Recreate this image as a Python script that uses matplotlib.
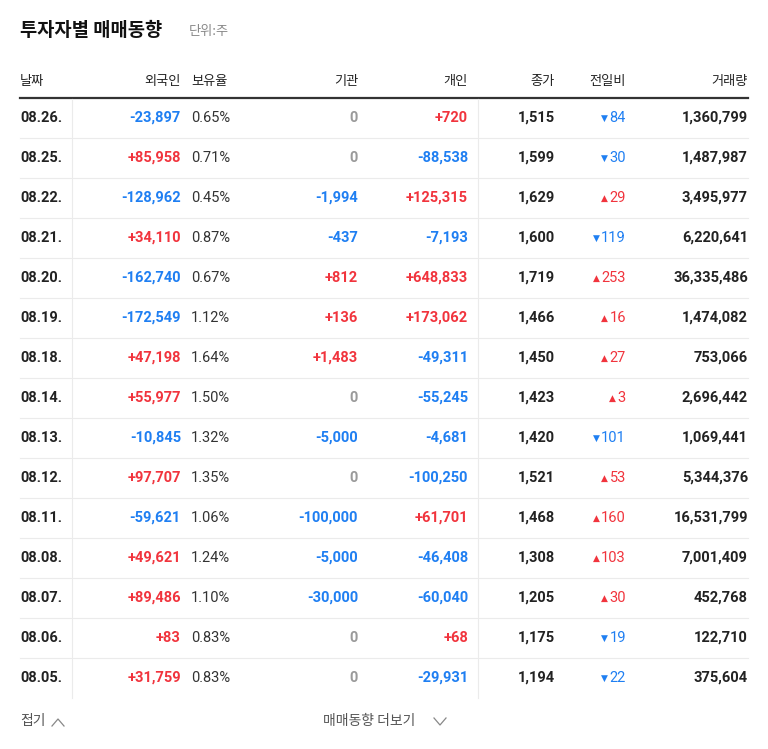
import matplotlib
matplotlib.use("Agg")
import matplotlib.pyplot as plt

dates = ["08.26.","08.25.","08.22.","08.21.","08.20.","08.19.","08.18.","08.14.","08.13.","08.12.","08.11.","08.08.","08.07.","08.06.","08.05."]
foreign = [-23897,85958,-128962,34110,-162740,-172549,47198,55977,-10845,97707,-59621,49621,89486,83,31759]
ratio = [0.65,0.71,0.45,0.87,0.67,1.12,1.64,1.50,1.32,1.35,1.06,1.24,1.10,0.83,0.83]
inst = [0,0,-1994,-437,812,136,1483,0,-5000,0,-100000,-5000,-30000,0,0]
indiv = [720,-88538,125315,-7193,648833,173062,-49311,-55245,-4681,-100250,61701,-46408,-60040,68,-29931]
close = [1515,1599,1629,1600,1719,1466,1450,1423,1420,1521,1468,1308,1205,1175,1194]
change = [-84,-30,29,-119,253,16,27,3,-101,53,160,103,30,-19,-22]
volume = [1360799,1487987,3495977,6220641,36335486,1474082,753066,2696442,1069441,5344376,16531799,7001409,452768,122710,375604]
headers = ["날짜","외국인","보유율","기관","개인","종가","전일비","거래량"]

RED = "#f1343d"; BLUE = "#1f7ff2"; GRAY = "#9a9a9a"; DARK = "#222222"
KR = ["Noto Sans CJK KR", "Noto Sans CJK JP", "Noto Sans CJK SC", "DejaVu Sans"]
plt.rcParams["font.family"] = KR

fig = plt.figure(figsize=(7.68, 7.49), dpi=100)
ax = fig.add_axes([0, 0, 1, 1])
ax.set_xlim(0, 768); ax.set_ylim(749, 0); ax.axis("off")

ax.text(20, 31, "투자자별 매매동향", fontsize=13.5, fontweight="bold", color="#111", va="center", ha="left", fontfamily=KR)
ax.text(189, 32, "단위:주", fontsize=9.5, color="#888", va="center", ha="left", fontfamily=KR)

hy = 81
hx = [(20,"left"),(181,"right"),(191,"left"),(358,"right"),(468,"right"),(555,"right"),(626,"right"),(748,"right")]
for (x, h), t in zip(hx, headers):
    ax.text(x, hy, t, fontsize=9.5, color=DARK, va="center", ha=h, fontfamily=KR)

ax.plot([20, 748], [98, 98], color="#333", lw=1.6)
n = len(dates)
for i in range(1, n):
    y = 98 + 40 * i
    ax.plot([20, 748], [y, y], color="#ebebeb", lw=0.8)
for x in (72, 478):
    ax.plot([x, x], [99, 98 + 40 * n], color="#ebebeb", lw=0.8)

def signed(v):
    if v == 0:
        return "0", GRAY
    if v > 0:
        return f"+{v:,}", RED
    return f"-{abs(v):,}", BLUE

fs = 10.5
R = "Roboto"
for i in range(n):
    y = 118 + 40 * i
    ax.text(20, y, dates[i], fontsize=fs, fontweight="bold", color=DARK, va="center", ha="left", fontfamily=R)
    t, c = signed(foreign[i])
    ax.text(181, y, t, fontsize=fs, fontweight="bold", color=c, va="center", ha="right", fontfamily=R)
    ax.text(191, y, f"{ratio[i]:.2f}%", fontsize=fs, color="#333", va="center", ha="left", fontfamily=R)
    t, c = signed(inst[i])
    ax.text(358, y, t, fontsize=fs, fontweight="bold", color=c, va="center", ha="right", fontfamily=R)
    t, c = signed(indiv[i])
    ax.text(468, y, t, fontsize=fs, fontweight="bold", color=c, va="center", ha="right", fontfamily=R)
    ax.text(555, y, f"{close[i]:,}", fontsize=fs, fontweight="bold", color=DARK, va="center", ha="right", fontfamily=R)
    ch = change[i]
    c = RED if ch > 0 else BLUE
    num = f"{abs(ch)}"
    ax.text(626, y, num, fontsize=fs, color=c, va="center", ha="right", fontfamily=R)
    w = 8.2 * len(num) + 2
    ax.text(626 - w, y, "▲" if ch > 0 else "▼", fontsize=6.5, color=c, va="center", ha="right", fontfamily="DejaVu Sans")
    ax.text(748, y, f"{volume[i]:,}", fontsize=fs, fontweight="bold", color=DARK, va="center", ha="right", fontfamily=R)

ax.text(20, 721, "접기", fontsize=10, color="#555", va="center", ha="left", fontfamily=KR)
ax.plot([52, 58, 64], [726, 719, 726], color="#888", lw=0.9)
ax.text(323, 721, "매매동향 더보기", fontsize=10, color="#555", va="center", ha="left", fontfamily=KR)
ax.plot([434, 440, 446], [718, 725, 718], color="#888", lw=0.9)

fig.savefig("out.png", dpi=100, facecolor="white")
